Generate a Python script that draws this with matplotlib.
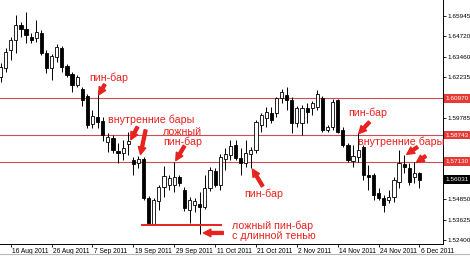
import matplotlib
matplotlib.use("Agg")
import matplotlib.pyplot as plt
import matplotlib.transforms as mtransforms
from matplotlib.lines import Line2D
import numpy as np

plt.rcParams['font.family'] = ['Liberation Sans', 'DejaVu Sans']

# ---- data (daily bars, 12 Aug 2011 .. 6 Dec 2011) ----
opens = [1.6225, 1.6280, 1.6389, 1.6449, 1.6540, 1.6516, 1.6467, 1.6461, 1.6492, 1.6371,
         1.6280, 1.6346, 1.6401, 1.6292, 1.6244, 1.6177, 1.6153, 1.6111, 1.5941, 1.5983,
         1.5959, 1.5832, 1.5856, 1.5778, 1.5766, 1.5820, 1.5723, 1.5705, 1.5729, 1.5493,
         1.5336, 1.5475, 1.5560, 1.5572, 1.5572, 1.5620, 1.5542, 1.5421, 1.5451, 1.5457,
         1.5439, 1.5554, 1.5657, 1.5572, 1.5729, 1.5754, 1.5814, 1.5735, 1.5705, 1.5760,
         1.5784, 1.5935, 1.5977, 1.6008, 1.6008, 1.6098, 1.6117, 1.6086, 1.5947, 1.5947,
         1.6038, 1.6038, 1.6044, 1.6098, 1.5905, 1.5923, 1.6086, 1.5905, 1.5814, 1.5717,
         1.5741, 1.5802, 1.5633, 1.5633, 1.5524, 1.5493, 1.5481, 1.5499, 1.5590, 1.5699,
         1.5675, 1.5620, 1.5645]
highs = [1.6310, 1.6401, 1.6467, 1.6601, 1.6558, 1.6619, 1.6492, 1.6570, 1.6510, 1.6389,
         1.6365, 1.6425, 1.6413, 1.6304, 1.6256, 1.6238, 1.6165, 1.6123, 1.6026, 1.6141,
         1.5983, 1.5887, 1.5875, 1.5826, 1.5844, 1.5893, 1.5741, 1.5747, 1.5741, 1.5506,
         1.5493, 1.5572, 1.5687, 1.5633, 1.5711, 1.5633, 1.5560, 1.5499, 1.5493, 1.5530,
         1.5633, 1.5681, 1.5675, 1.5760, 1.5796, 1.5844, 1.5844, 1.5796, 1.5844, 1.5802,
         1.5965, 1.6008, 1.6044, 1.6044, 1.6104, 1.6153, 1.6165, 1.6104, 1.6050, 1.6056,
         1.6068, 1.6080, 1.6147, 1.6111, 1.5935, 1.6092, 1.6092, 1.5923, 1.5826, 1.5814,
         1.5887, 1.5814, 1.5693, 1.5645, 1.5554, 1.5512, 1.5542, 1.5620, 1.5784, 1.5754,
         1.5705, 1.5711, 1.5651]
lows = [1.6195, 1.6256, 1.6328, 1.6371, 1.6467, 1.6431, 1.6431, 1.6437, 1.6359, 1.6250,
        1.6207, 1.6316, 1.6256, 1.6225, 1.6135, 1.6165, 1.6050, 1.5917, 1.5917, 1.5917,
        1.5838, 1.5772, 1.5766, 1.5705, 1.5723, 1.5754, 1.5633, 1.5675, 1.5481, 1.5330,
        1.5330, 1.5421, 1.5499, 1.5542, 1.5530, 1.5566, 1.5415, 1.5342, 1.5409, 1.5276,
        1.5427, 1.5536, 1.5560, 1.5542, 1.5663, 1.5723, 1.5723, 1.5633, 1.5681, 1.5675,
        1.5766, 1.5893, 1.5923, 1.5947, 1.5983, 1.6068, 1.6026, 1.5887, 1.5923, 1.5875,
        1.5947, 1.5996, 1.6026, 1.5893, 1.5893, 1.5905, 1.5887, 1.5802, 1.5711, 1.5681,
        1.5711, 1.5602, 1.5542, 1.5481, 1.5481, 1.5409, 1.5463, 1.5469, 1.5554, 1.5645,
        1.5572, 1.5584, 1.5554]
closes = [1.6286, 1.6377, 1.6449, 1.6540, 1.6516, 1.6480, 1.6449, 1.6498, 1.6371, 1.6280,
          1.6352, 1.6407, 1.6286, 1.6238, 1.6177, 1.6225, 1.6086, 1.5935, 1.5990, 1.5953,
          1.5875, 1.5862, 1.5784, 1.5766, 1.5796, 1.5838, 1.5699, 1.5729, 1.5493, 1.5342,
          1.5481, 1.5560, 1.5627, 1.5614, 1.5620, 1.5584, 1.5433, 1.5481, 1.5475, 1.5439,
          1.5554, 1.5663, 1.5572, 1.5741, 1.5760, 1.5808, 1.5735, 1.5705, 1.5766, 1.5784,
          1.5953, 1.5996, 1.6014, 1.5965, 1.6098, 1.6135, 1.6086, 1.5947, 1.6038, 1.6038,
          1.6014, 1.6068, 1.6123, 1.5905, 1.5923, 1.6074, 1.5893, 1.5814, 1.5723, 1.5747,
          1.5784, 1.5633, 1.5620, 1.5512, 1.5493, 1.5451, 1.5499, 1.5602, 1.5705, 1.5681,
          1.5590, 1.5645, 1.56031]

date_tick_bars = [2, 10, 18, 26, 34, 42, 50, 58, 66, 74, 82]
date_labels = ["16 Aug 2011", "26 Aug 2011", "7 Sep 2011", "19 Sep 2011", "29 Sep 2011",
               "11 Oct 2011", "21 Oct 2011", "2 Nov 2011", "14 Nov 2011", "24 Nov 2011",
               "6 Dec 2011"]
price_ticks = [1.65945, 1.64720, 1.63460, 1.62235, 1.59785, 1.54850, 1.53625, 1.52400]
levels = [1.60970, 1.58743, 1.57130]
last_price = 1.56031
support_level = 1.5330
support_span = (27.4, 43.4)

RED = '#e8221e'
LINE_RED = '#c9504f'

fig = plt.figure(figsize=(4.7, 2.57), dpi=100)
ax = fig.add_axes([0, 13 / 257, 443 / 470, 244 / 257])

n = len(opens)
x = np.arange(n)
o = np.array(opens); h = np.array(highs); l = np.array(lows); c = np.array(closes)
up = c >= o

ax.vlines(x, l, h, color='black', lw=0.7, zorder=2)
bottom = np.minimum(o, c)
height = np.maximum(np.abs(c - o), 0.00025)
ax.bar(x[up], height[up], bottom=bottom[up], width=0.62, color='white',
       edgecolor='black', linewidth=0.6, zorder=3)
ax.bar(x[~up], height[~up], bottom=bottom[~up], width=0.62, color='black',
       edgecolor='black', linewidth=0.6, zorder=3)

for lv in levels:
    ax.axhline(lv, color=LINE_RED, lw=0.8, zorder=1)
ax.hlines(support_level, support_span[0], support_span[1], color=RED, lw=1.4, zorder=4)

ax.set_xlim(-0.1, 86.6)
ax.set_ylim(1.52151, 1.66913)

for s in ['top', 'left']:
    ax.spines[s].set_visible(False)
for s in ['right', 'bottom']:
    ax.spines[s].set_linewidth(0.7)

ax.yaxis.tick_right()
ax.set_yticks(price_ticks)
ax.set_yticklabels([f'{v:.5f}' for v in price_ticks])
ax.tick_params(axis='y', labelsize=4.6, length=2, width=0.6, pad=1.5)

ax.set_xticks(date_tick_bars)
ax.set_xticklabels(date_labels)
ax.tick_params(axis='x', labelsize=4.8, length=2.5, width=0.6, pad=0.6)
off = mtransforms.ScaledTranslation(1.5 / 100, 0, fig.dpi_scale_trans)
for lab in ax.get_xticklabels():
    lab.set_horizontalalignment('left')
    lab.set_transform(lab.get_transform() + off)

blend = mtransforms.blended_transform_factory(ax.transAxes, ax.transData)
for lv in levels:
    ax.text(1.006, lv, f'{lv:.5f}', transform=blend, ha='left', va='center',
            fontsize=4.6, color='white', zorder=6, clip_on=False,
            bbox=dict(boxstyle='square,pad=0.3', fc='#e53a35', ec='none'))
ax.text(1.006, last_price, f'{last_price:.5f}', transform=blend, ha='left', va='center',
        fontsize=4.6, color='white', zorder=6, clip_on=False,
        bbox=dict(boxstyle='square,pad=0.3', fc='black', ec='none'))

# thin scrollbar-like line at the very bottom of the window
fig.add_artist(Line2D([0, 1], [3.5 / 257, 3.5 / 257], transform=fig.transFigure,
                      color='#b8b8b8', lw=0.8))

arrow_kw = dict(arrowstyle='simple,head_length=0.9,head_width=0.9,tail_width=0.35',
                color=RED, mutation_scale=6, shrinkA=0, shrinkB=0)
fs = 7.7

def note(text, tx, ty, ha='center'):
    ax.text(tx, ty, text, color=RED, fontsize=fs, ha=ha,
            va='center', linespacing=1.0, zorder=7)

def arrow(x0, y0, x1, y1):
    ax.annotate('', xy=(x1, y1), xytext=(x0, y0), arrowprops=arrow_kw, zorder=7)

note('пин-бар', 21.1, 1.6219)
arrow(20.4, 1.6180, 19.2, 1.6117)

note('внутренние бары', 29.5, 1.5965)
arrow(26.8, 1.5923, 25.5, 1.5846)
arrow(28.4, 1.5905, 27.4, 1.5756)

note('ложный\nпин-бар', 35.6, 1.5862)
arrow(36.0, 1.5808, 34.3, 1.5720)

note('пин-бар', 51.5, 1.5520)
arrow(51.3, 1.5565, 49.3, 1.5668)

note('ложный пин-бар\nс длинной тенью', 45.3, 1.5297, ha='left')
arrow(43.6, 1.5282, 39.7, 1.5282)

note('пин-бар', 71.8, 1.6008)
arrow(72.2, 1.5953, 70.1, 1.5883)

note('внутренние бары', 78.4, 1.5832)
arrow(81.6, 1.5802, 79.5, 1.5757)
arrow(83.2, 1.5747, 81.4, 1.5708)

fig.savefig('out.png', dpi=100, facecolor='white')
